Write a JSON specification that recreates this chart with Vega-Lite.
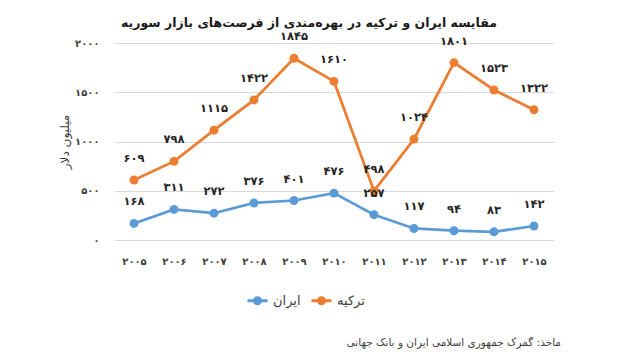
{
  "$schema": "https://vega.github.io/schema/vega-lite/v6.json",
  "background": "white",
  "padding": {"left": 58, "top": 16, "right": 5, "bottom": 5},
  "config": {
    "font": "DejaVu Sans",
    "view": {"stroke": null}
  },
  "title": {
    "text": "ماخذ: گمرک جمهوری اسلامی ایران و بانک جهانی",
    "orient": "bottom",
    "anchor": "end",
    "fontSize": 10.5,
    "fontWeight": "normal",
    "color": "#404040",
    "font": "DejaVu Sans",
    "offset": 28,
    "dx": 7
  },
  "datasets": {
    "trade": [
      {"country": "ایران", "year": 2005, "yl": "۲۰۰۵", "value": 168, "label": "۱۶۸"},
      {"country": "ایران", "year": 2006, "yl": "۲۰۰۶", "value": 311, "label": "۳۱۱"},
      {"country": "ایران", "year": 2007, "yl": "۲۰۰۷", "value": 272, "label": "۲۷۲"},
      {"country": "ایران", "year": 2008, "yl": "۲۰۰۸", "value": 376, "label": "۳۷۶"},
      {"country": "ایران", "year": 2009, "yl": "۲۰۰۹", "value": 401, "label": "۴۰۱"},
      {"country": "ایران", "year": 2010, "yl": "۲۰۱۰", "value": 476, "label": "۴۷۶"},
      {"country": "ایران", "year": 2011, "yl": "۲۰۱۱", "value": 257, "label": "۲۵۷"},
      {"country": "ایران", "year": 2012, "yl": "۲۰۱۲", "value": 117, "label": "۱۱۷"},
      {"country": "ایران", "year": 2013, "yl": "۲۰۱۳", "value": 94, "label": "۹۴"},
      {"country": "ایران", "year": 2014, "yl": "۲۰۱۴", "value": 83, "label": "۸۳"},
      {"country": "ایران", "year": 2015, "yl": "۲۰۱۵", "value": 142, "label": "۱۴۲"},
      {"country": "ترکیه", "year": 2005, "yl": "۲۰۰۵", "value": 609, "label": "۶۰۹"},
      {"country": "ترکیه", "year": 2006, "yl": "۲۰۰۶", "value": 798, "label": "۷۹۸"},
      {"country": "ترکیه", "year": 2007, "yl": "۲۰۰۷", "value": 1115, "label": "۱۱۱۵"},
      {"country": "ترکیه", "year": 2008, "yl": "۲۰۰۸", "value": 1422, "label": "۱۴۲۲"},
      {"country": "ترکیه", "year": 2009, "yl": "۲۰۰۹", "value": 1845, "label": "۱۸۴۵"},
      {"country": "ترکیه", "year": 2010, "yl": "۲۰۱۰", "value": 1610, "label": "۱۶۱۰"},
      {"country": "ترکیه", "year": 2011, "yl": "۲۰۱۱", "value": 498, "label": "۴۹۸"},
      {"country": "ترکیه", "year": 2012, "yl": "۲۰۱۲", "value": 1024, "label": "۱۰۲۴"},
      {"country": "ترکیه", "year": 2013, "yl": "۲۰۱۳", "value": 1801, "label": "۱۸۰۱"},
      {"country": "ترکیه", "year": 2014, "yl": "۲۰۱۴", "value": 1523, "label": "۱۵۲۳"},
      {"country": "ترکیه", "year": 2015, "yl": "۲۰۱۵", "value": 1322, "label": "۱۳۲۲"}
    ]
  },
  "vconcat": [
    {
      "title": {
        "text": "مقایسه ایران و ترکیه در بهره‌مندی از فرصت‌های بازار سوریه",
        "anchor": "middle",
        "fontSize": 12.5,
        "fontWeight": "bold",
        "color": "#1a1a1a",
        "offset": 2,
        "dx": -25
      },
      "width": 440,
      "height": 197,
      "data": {"name": "trade"},
      "encoding": {
        "x": {
          "field": "yl",
          "type": "ordinal",
          "sort": null,
          "scale": {"type": "point", "padding": 0.5},
          "axis": {
            "title": null,
            "labelAngle": 0,
            "domain": false,
            "ticks": false,
            "labelPadding": 16,
            "labelFontSize": 10,
            "labelFontWeight": "bold",
            "labelColor": "#404040"
          }
        },
        "y": {
          "field": "value",
          "type": "quantitative",
          "scale": {"domain": [0, 2000]},
          "axis": {
            "title": "میلیون دلار",
            "titleFontSize": 12,
            "titleFontWeight": "normal",
            "titleColor": "#404040",
            "titlePadding": 3,
            "values": [0, 500, 1000, 1500, 2000],
            "labelExpr": "datum.value == 0 ? '۰' : datum.value == 500 ? '۵۰۰' : datum.value == 1000 ? '۱۰۰۰' : datum.value == 1500 ? '۱۵۰۰' : '۲۰۰۰'",
            "domain": false,
            "ticks": false,
            "labelPadding": 15,
            "labelFontSize": 10,
            "labelFontWeight": "bold",
            "labelColor": "#404040",
            "gridColor": "#d9d9d9",
            "gridWidth": 1
          }
        },
        "color": {
          "field": "country",
          "type": "nominal",
          "scale": {"domain": ["ایران", "ترکیه"], "range": ["#5B9BD5", "#ED7D31"]},
          "legend": {
            "title": null,
            "orient": "none",
            "direction": "horizontal",
            "legendX": 132,
            "legendY": 246,
            "labelFontSize": 13,
            "labelColor": "#404040",
            "symbolType": "M-1,0L1,0M0.3,0A0.3,0.3 0 1,1 -0.3,0A0.3,0.3 0 1,1 0.3,0Z",
            "symbolSize": 400,
            "symbolStrokeWidth": 3,
            "columnPadding": 4,
            "labelOffset": 4
          }
        }
      },
      "layer": [
        {
          "mark": {"type": "line", "strokeWidth": 2.75, "point": {"filled": true, "size": 80}}
        },
        {
          "mark": {"type": "text", "dy": -21, "fontSize": 11.5, "fontWeight": "bold", "color": "#262626"},
          "encoding": {
            "text": {"field": "label"},
            "color": {"value": "#262626"}
          }
        }
      ]
    }
  ]
}
